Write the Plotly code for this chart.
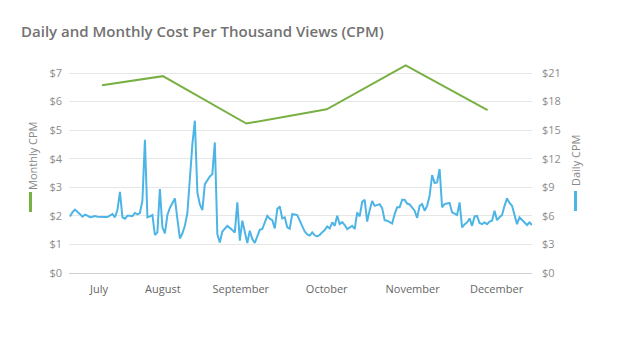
import plotly.graph_objects as go

# Daily CPM values (right axis, $), one per day
daily_cpm = [
    5.94, 6.39, 6.66, 6.45, 6.18, 5.91, 6.12, 6.03, 5.85, 5.91,
    5.97, 5.91, 5.88, 5.88, 5.88, 5.88, 6.00, 6.18, 5.85, 6.60,
    8.52, 5.85, 5.70, 6.00, 6.00, 5.97, 6.30, 6.15, 6.30, 7.59,
    13.98, 5.85, 5.94, 6.09, 3.99, 4.26, 8.82, 4.80, 4.17, 6.09,
    6.84, 7.35, 7.83, 5.67, 3.63, 4.14, 4.95, 6.30, 10.14, 13.50,
    15.99, 8.46, 7.20, 6.60, 9.33, 9.75, 10.14, 10.38, 13.71, 4.08,
    3.21, 4.35, 4.65, 4.95, 4.74, 4.50, 4.26, 7.41, 3.39, 5.49,
    4.26, 3.15, 4.44, 3.57, 3.15, 3.90, 4.53, 4.62, 5.40, 6.00,
    5.70, 5.55, 4.68, 6.72, 6.99, 5.73, 5.85, 4.80, 4.65, 6.18,
    6.15, 6.09, 5.49, 4.86, 4.35, 4.05, 3.93, 4.26, 3.96, 3.84,
    3.99, 4.29, 4.50, 4.89, 4.68, 5.31, 4.95, 6.00, 5.13, 5.34,
    5.04, 4.62, 4.80, 4.95, 4.62, 6.36, 5.94, 7.47, 7.68, 5.40,
    6.60, 7.56, 7.05, 7.14, 7.23, 6.81, 5.55, 5.49, 5.34, 5.19,
    6.18, 6.90, 6.90, 7.68, 7.68, 7.29, 7.20, 6.90, 6.54, 5.79,
    7.05, 7.23, 6.54, 7.05, 8.10, 10.29, 9.45, 9.51, 10.92, 6.90,
    7.23, 7.29, 7.35, 6.36, 6.18, 6.09, 7.41, 4.80, 5.10, 5.31,
    5.73, 4.95, 5.94, 6.00, 5.25, 5.13, 5.31, 5.13, 5.40, 5.49,
    6.54, 5.55, 5.85, 6.09, 7.05, 7.83, 7.35, 7.05, 6.09, 5.13,
    5.85, 5.55, 5.31, 5.04, 5.31, 5.04,
]
daily_index = list(range(len(daily_cpm)))

# Monthly CPM values (left axis, $) and their position on the day axis
monthly_cpm = [6.57, 6.89, 5.23, 5.73, 7.27, 5.70]
monthly_pos = [12.8, 37.2, 70.6, 102.8, 134.4, 167.2]

# Month tick labels and positions on the day axis
month_labels = ["July", "August", "September", "October", "November", "December"]
month_pos = [11.6, 37.2, 68.4, 102.8, 137.2, 170.8]

left_ticks = [0, 1, 2, 3, 4, 5, 6, 7]
right_ticks = [0, 3, 6, 9, 12, 15, 18, 21]

BLUE = "#4db5e6"
GREEN = "#78b043"
FONT = "Open Sans"

fig = go.Figure()
fig.add_trace(go.Scatter(
    x=daily_index, y=daily_cpm, mode="lines", yaxis="y2",
    line=dict(color=BLUE, width=2), name="Daily CPM", hoverinfo="skip"))
fig.add_trace(go.Scatter(
    x=monthly_pos, y=monthly_cpm, mode="lines", yaxis="y",
    line=dict(color=GREEN, width=2), name="Monthly CPM", hoverinfo="skip"))

fig.update_layout(
    width=623, height=337,
    margin=dict(l=69, r=91, t=63, b=64),
    paper_bgcolor="white", plot_bgcolor="white",
    showlegend=False,
    font=dict(family=FONT, color="#888888", size=11),
    title=dict(
        text="Daily and Monthly Cost Per Thousand Views (CPM)",
        x=21 / 623, xanchor="left", xref="container",
        y=1 - 32 / 337, yanchor="middle", yref="container",
        font=dict(family=FONT, size=15, color="#727272", weight=600)),
    xaxis=dict(
        range=[-0.4, 185.0], tickmode="array", tickvals=month_pos,
        ticktext=month_labels, showgrid=False, zeroline=False,
        showline=True, linecolor="#cfcfcf", linewidth=1, ticks="",
        tickfont=dict(color="#666666", size=11), ticklabelstandoff=6),
    yaxis=dict(
        range=[0, 7.35], tickmode="array", tickvals=left_ticks,
        ticktext=["$" + str(v) for v in left_ticks],
        showgrid=True, gridcolor="#e6e6e6", gridwidth=1, zeroline=False,
        ticks="", tickfont=dict(color="#8c8c8c", size=11), ticklabelstandoff=6),
    yaxis2=dict(
        range=[0, 22.05], tickmode="array", tickvals=right_ticks,
        ticktext=["$" + str(v) for v in right_ticks],
        overlaying="y", side="right", showgrid=False, zeroline=False,
        ticks="", tickfont=dict(color="#8c8c8c", size=11), ticklabelstandoff=9),
    annotations=[
        dict(text="Monthly CPM", xref="paper", yref="paper", x=0, y=0.5,
             xanchor="center", yanchor="middle",
             xshift=-37, yshift=12, textangle=-90, showarrow=False,
             font=dict(family=FONT, size=11, color="#888888")),
        dict(text="Daily CPM", xref="paper", yref="paper", x=1, y=0.5,
             xanchor="center", yanchor="middle",
             xshift=43, yshift=7, textangle=-90, showarrow=False,
             font=dict(family=FONT, size=11, color="#888888")),
    ],
    shapes=[
        dict(type="rect", xref="paper", yref="paper", xsizemode="pixel",
             ysizemode="pixel", xanchor=0, yanchor=0.5,
             x0=-40, x1=-37, y0=-44, y1=-24, fillcolor=GREEN, line_width=0),
        dict(type="rect", xref="paper", yref="paper", xsizemode="pixel",
             ysizemode="pixel", xanchor=1, yanchor=0.5,
             x0=42, x1=45, y0=-43, y1=-23, fillcolor=BLUE, line_width=0),
    ],
)

fig.write_html("out.html")
